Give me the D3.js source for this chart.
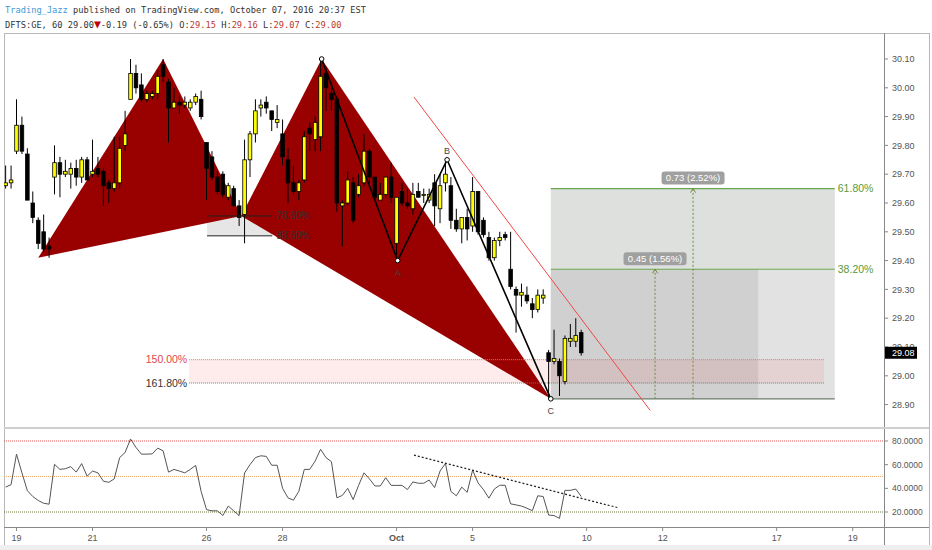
<!DOCTYPE html>
<html><head><meta charset="utf-8">
<script src="https://cdn.jsdelivr.net/npm/d3@7"></script>
<style>body{margin:0;background:#fff}svg{display:block}</style>
</head><body>
<svg id="c" width="932" height="550"></svg>
<script>
// ---------- DATA ----------
const startIndex = -2; // bar index of first candle (0 = Sep 19, 9:30)
const opens  = [29.66,29.67,29.78,29.87,29.77,29.60,29.54,29.50,29.45,29.69,29.74,29.70,29.70,29.72,29.69,29.75,29.70,29.72,29.71,29.67,29.65,29.67,29.80,29.96,30.05,30.01,29.96,29.97,29.98,30.08,30.02,29.93,29.95,29.94,29.93,29.95,29.96,29.81,29.76,29.69,29.70,29.62,29.65,29.59,29.56,29.75,29.84,29.93,29.95,29.92,29.88,29.84,29.75,29.67,29.64,29.68,29.86,29.82,29.83,30.05,29.98,29.96,29.59,29.60,29.67,29.63,29.67,29.78,29.69,29.61,29.63,29.69,29.46,29.64,29.60,29.58,29.64,29.63,29.61,29.67,29.58,29.67,29.66,29.54,29.51,29.55,29.52,29.64,29.54,29.48,29.41,29.47,29.49,29.37,29.30,29.28,29.28,29.25,29.23,29.27,29.08,29.05,29.05,28.98,29.12,29.12,29.15];
const highs  = [29.73,29.73,29.96,29.90,29.79,29.64,29.55,29.56,29.48,29.80,29.76,29.75,29.74,29.75,29.76,29.76,29.82,29.76,29.72,29.68,29.83,29.83,29.92,30.10,30.08,30.05,29.99,29.99,30.06,30.10,30.03,30.00,29.97,29.97,29.96,29.98,29.99,29.81,29.78,29.71,29.71,29.67,29.66,29.61,29.82,29.85,29.96,29.96,29.97,29.92,29.94,29.89,29.79,29.73,29.68,29.85,29.88,29.90,30.10,30.07,30.02,29.97,29.61,29.71,29.69,29.70,29.84,29.79,29.69,29.67,29.69,29.74,29.62,29.67,29.65,29.67,29.67,29.65,29.65,29.70,29.70,29.75,29.69,29.58,29.55,29.58,29.69,29.64,29.55,29.50,29.48,29.50,29.50,29.50,29.31,29.32,29.31,29.27,29.30,29.30,29.09,29.16,29.06,29.14,29.18,29.20,29.16];
const lows   = [29.65,29.65,29.77,29.77,29.61,29.53,29.44,29.43,29.41,29.63,29.62,29.69,29.65,29.66,29.67,29.68,29.69,29.69,29.59,29.60,29.64,29.65,29.78,29.96,29.98,29.95,29.95,29.96,29.96,30.02,29.81,29.93,29.91,29.93,29.92,29.94,29.89,29.61,29.68,29.63,29.62,29.61,29.59,29.52,29.46,29.69,29.81,29.90,29.91,29.85,29.86,29.73,29.60,29.63,29.61,29.67,29.78,29.78,29.78,29.92,29.92,29.57,29.45,29.59,29.53,29.62,29.66,29.67,29.61,29.61,29.62,29.60,29.41,29.59,29.58,29.56,29.62,29.60,29.60,29.52,29.53,29.64,29.51,29.50,29.46,29.47,29.50,29.49,29.48,29.40,29.40,29.45,29.47,29.30,29.15,29.24,29.25,29.20,29.22,29.25,28.92,29.04,28.93,28.97,29.10,29.10,29.07];
const closes = [29.67,29.68,29.87,29.78,29.61,29.55,29.46,29.44,29.44,29.74,29.70,29.71,29.72,29.69,29.75,29.68,29.71,29.70,29.66,29.65,29.67,29.79,29.84,30.05,30.00,29.96,29.98,29.98,30.04,30.04,29.93,29.95,29.94,29.95,29.95,29.97,29.90,29.72,29.69,29.64,29.63,29.66,29.59,29.55,29.75,29.84,29.92,29.94,29.93,29.89,29.89,29.76,29.67,29.64,29.67,29.83,29.84,29.88,30.04,30.00,29.96,29.60,29.60,29.68,29.54,29.66,29.78,29.69,29.62,29.63,29.69,29.62,29.62,29.60,29.59,29.63,29.62,29.63,29.63,29.59,29.66,29.70,29.54,29.51,29.55,29.51,29.64,29.50,29.49,29.41,29.47,29.48,29.48,29.31,29.28,29.29,29.26,29.23,29.28,29.28,29.05,29.06,29.00,29.13,29.13,29.14,29.08];
const rsi    = [41.1,43.1,68.9,53.1,38.0,33.1,29.7,27.4,26.6,60.3,56.0,56.6,58.3,53.7,60.9,50.3,54.6,53.1,46.0,45.1,48.0,66.0,70.3,81.7,74.6,68.9,68.9,69.1,74.0,71.7,53.7,56.0,54.6,53.1,56.0,59.4,37.4,22.0,21.0,21.0,17.0,25.0,21.0,17.0,53.0,60.0,66.0,67.5,67.0,59.5,59.5,40.0,32.0,30.0,37.5,56.0,56.0,63.0,73.0,66.0,62.5,32.0,34.0,40.0,30.5,42.5,53.1,48.0,42.0,42.0,49.0,42.5,42.5,42.5,39.0,45.4,44.3,44.3,47.0,40.6,54.6,61.0,37.4,33.7,41.0,36.6,55.4,44.6,38.9,31.7,39.4,42.6,42.6,26.9,26.0,25.0,23.2,21.1,33.7,33.1,17.4,17.0,14.6,38.3,38.3,39.4,33.1];

const tickIndex  = [0,14,35,49,70,84,105,119,140,154];
const tickLabels = ["19","21","26","28","Oct","5","10","12","17","19"];
const priceTicks = [28.9,29.0,29.1,29.2,29.3,29.4,29.5,29.6,29.7,29.8,29.9,30.0,30.1];
const rsiTicks   = [20,40,60,80];
const rsiLevels  = [80,50,20];
const rsiLevelColors = ["#d9534f","#f0a868","#6b7a3c"];

const harmonicIdx   = [4,27,41.4,56.2,98.4];        // X A B C D
const harmonicPrice = [29.41,30.10,29.555,30.10,28.92];
const abcdIdx    = [56.2,70.2,79.3,98.4];
const abcdPrice  = [30.10,29.40,29.75,28.92];
const abcdLabels = ["","A","B","C"];

const retraceLabels = ["78.60%","88.60%"];
const retracePrices = [29.555,29.486];
const retraceSpan   = [35.1,47.1];

const extLabels = ["150.00%","161.80%"];
const extPrices = [29.056,28.975];
const extSpan   = [31.8,148.7];

const projBase   = 28.92;
const projLabels = ["38.20%","61.80%"];
const projPrices = [29.37,29.65];
const projSpan   = [98.4,150.7];
const projInnerEnd = 136.6;

const measureIdx    = [117.6,124.6];
const measureTo     = [29.37,29.65];
const measureLabels = ["0.45 (1.56%)","0.73 (2.52%)"];

const trendIdx   = [73.2,116.7];
const trendPrice = [29.968,28.88];
const rsiTrendIdx = [73.2,110.8];
const rsiTrendVal = [68,23.6];
const lastPrice = 29.08;

// ---------- LAYOUT ----------
const svg = d3.select("#c");
const plotL = 4, plotR = 884, outerR = 929, mainT = 33, mainB = 427, rsiT = 429, rsiB = 527;
const x  = d3.scaleLinear().domain([0,154]).range([16.5,852.7]);
const y  = d3.scaleLinear().domain([28.9,30.1]).range([404.6,59]);
const ry = d3.scaleLinear().domain([20,80]).range([512,441]);
const sans = "'Liberation Sans', Arial, sans-serif";
const mono = "'DejaVu Sans Mono', monospace";

const defs = svg.append("defs");
defs.append("clipPath").attr("id","mc").append("rect")
  .attr("x",plotL).attr("y",mainT).attr("width",plotR-plotL).attr("height",mainB-mainT);
defs.append("clipPath").attr("id","rc").append("rect")
  .attr("x",plotL).attr("y",rsiT).attr("width",plotR-plotL).attr("height",rsiB-rsiT);

// header
const h1 = svg.append("text").attr("x",5).attr("y",13).attr("font-family",mono).attr("font-size",8.7).attr("fill","#333");
h1.append("tspan").attr("fill","#3d9ad6").text("Trading_Jazz");
h1.append("tspan").text(" published on TradingView.com, October 07, 2016 20:37 EST");
const h2 = svg.append("text").attr("x",5).attr("y",28).attr("font-family",mono).attr("font-size",8.7).attr("fill","#333");
[["DFTS:GE, 60 29.00","#333",8.7],["▼","#c00000",11.5],["-0.19 (-0.65%) O:","#333",8.7],["29.15","#c0392b",8.7],[" H:","#333",8.7],["29.16","#c0392b",8.7],[" L:","#333",8.7],["29.07","#c0392b",8.7],[" C:","#333",8.7],["29.00","#c0392b",8.7]]
  .forEach(([t,c,fs])=>h2.append("tspan").attr("fill",c).attr("font-size",fs).text(t));

// frame
const frame = svg.append("g").attr("stroke","#b8b8b8").attr("fill","none");
frame.append("line").attr("x1",plotL).attr("x2",outerR).attr("y1",mainT+0.5).attr("y2",mainT+0.5);
frame.append("line").attr("x1",plotL+0.5).attr("x2",plotL+0.5).attr("y1",mainT).attr("y2",545);
frame.append("line").attr("x1",plotR+0.5).attr("x2",plotR+0.5).attr("y1",mainT).attr("y2",545).attr("stroke","#888");
frame.append("line").attr("x1",outerR+0.5).attr("x2",outerR+0.5).attr("y1",mainT).attr("y2",545);
frame.append("rect").attr("x",plotL).attr("y",mainB).attr("width",outerR-plotL).attr("height",2).attr("fill","#cfcfcf").attr("stroke","none");
frame.append("line").attr("x1",plotL).attr("x2",outerR).attr("y1",rsiB+0.5).attr("y2",rsiB+0.5).attr("stroke","#888");
svg.append("rect").attr("x",0).attr("y",545).attr("width",932).attr("height",5).attr("fill","#efefef");

// ---------- MAIN PANE ----------
const m = svg.append("g").attr("clip-path","url(#mc)");

// projection zone
m.append("rect").attr("x",x(projSpan[0])).attr("width",x(projSpan[1])-x(projSpan[0]))
  .attr("y",y(projPrices[1])).attr("height",y(projPrices[0])-y(projPrices[1])).attr("fill","#dde0dc");
m.append("rect").attr("x",x(projSpan[0])).attr("width",x(projSpan[1])-x(projSpan[0]))
  .attr("y",y(projPrices[0])).attr("height",y(projBase)-y(projPrices[0])).attr("fill","#e2e2e2");
m.append("rect").attr("x",x(projSpan[0])).attr("width",x(projInnerEnd)-x(projSpan[0]))
  .attr("y",y(projPrices[0])).attr("height",y(projBase)-y(projPrices[0])).attr("fill","#d0d0d0");

// extension band
m.append("rect").attr("x",x(extSpan[0])).attr("width",x(extSpan[1])-x(extSpan[0]))
  .attr("y",y(extPrices[0])).attr("height",y(extPrices[1])-y(extPrices[0])).attr("fill","rgba(245,70,70,0.10)");

// retracement fill
m.append("rect").attr("x",x(retraceSpan[0])).attr("width",x(retraceSpan[1])-x(retraceSpan[0]))
  .attr("y",y(retracePrices[0])).attr("height",y(retracePrices[1])-y(retracePrices[0])).attr("fill","#e6e6e6");

// harmonic triangles XAB, BCD
const pt = k => [x(harmonicIdx[k]), y(harmonicPrice[k])];
[[0,1,2],[2,3,4]].forEach(tri=>{
  m.append("path").attr("d","M"+tri.map(pt).map(p=>p.join(",")).join("L")+"Z").attr("fill","#990000");
});

// extension lines
extPrices.forEach((p,k)=>{
  m.append("line").attr("x1",x(extSpan[0])).attr("x2",x(extSpan[1])).attr("y1",y(p)).attr("y2",y(p))
   .attr("stroke",k===0?"#e57373":"#777").attr("stroke-width",1).attr("stroke-dasharray","1,1");
});

// candles
const bars = opens.map((o,k)=>({i:startIndex+k,o,h:highs[k],l:lows[k],c:closes[k]}));
const cg = m.append("g");
const bw = 3.6;
bars.forEach(b=>{
  const cx = x(b.i);
  cg.append("line").attr("x1",cx).attr("x2",cx).attr("y1",y(b.h)).attr("y2",y(b.l)).attr("stroke","#000").attr("stroke-width",1);
  const up = b.c >= b.o;
  const top = y(Math.max(b.o,b.c)), bot = y(Math.min(b.o,b.c));
  cg.append("rect").attr("x",cx-bw/2).attr("width",bw).attr("y",top).attr("height",Math.max(1.2,bot-top))
    .attr("fill",up?"#ffff00":"#000").attr("stroke","#000").attr("stroke-width",0.8);
});

// retracement lines + labels
retracePrices.forEach((p,k)=>{
  m.append("line").attr("x1",x(retraceSpan[0])).attr("x2",x(retraceSpan[1])).attr("y1",y(p)).attr("y2",y(p))
    .attr("stroke","#222").attr("stroke-width",1);
  m.append("text").attr("x",x(retraceSpan[1])+4).attr("y",y(p)).attr("dy","0.35em")
    .attr("font-family",sans).attr("font-size",10).attr("fill","#333").text(retraceLabels[k]);
});

// projection lines
projPrices.forEach(p=>{
  m.append("line").attr("x1",x(projSpan[0])).attr("x2",x(projSpan[1])).attr("y1",y(p)).attr("y2",y(p))
    .attr("stroke","#6aa84f").attr("stroke-width",1.2);
});
m.append("line").attr("x1",x(projSpan[0])).attr("x2",x(projSpan[1])).attr("y1",y(projBase)).attr("y2",y(projBase))
  .attr("stroke","#6d7d6a").attr("stroke-width",1.2);
projPrices.forEach((p,k)=>{
  m.append("text").attr("x",x(projSpan[1])+3).attr("y",y(p)).attr("dy","0.35em")
    .attr("font-family",sans).attr("font-size",10.5).attr("fill","#5b9a3a").text(projLabels[k]);
});

// extension labels
extPrices.forEach((p,k)=>{
  m.append("text").attr("x",x(extSpan[0])-2).attr("y",y(p)).attr("dy","0.35em").attr("text-anchor","end")
    .attr("font-family",sans).attr("font-size",10.5).attr("fill",k===0?"#e0474c":"#333").text(extLabels[k]);
});

// measure arrows
measureIdx.forEach((mi,k)=>{
  const cx = x(mi), yt = y(measureTo[k]);
  m.append("line").attr("x1",cx).attr("x2",cx).attr("y1",y(projBase)).attr("y2",yt)
    .attr("stroke","#6b8e3a").attr("stroke-width",1).attr("stroke-dasharray","2,2");
  m.append("path").attr("d",`M${cx-2.5},${yt+4}L${cx},${yt}L${cx+2.5},${yt+4}`).attr("fill","none").attr("stroke","#6b8e3a");
  const w = 63, hgt = 13, by = yt - 10.5;
  m.append("rect").attr("x",cx-w/2).attr("y",by-hgt/2).attr("width",w).attr("height",hgt).attr("rx",3)
    .attr("fill","#a0a0a0");
  m.append("text").attr("x",cx).attr("y",by).attr("dy","0.35em").attr("text-anchor","middle")
    .attr("font-family",sans).attr("font-size",9.5).attr("fill","#fff").text(measureLabels[k]);
});

// red trend line
m.append("line").attr("x1",x(trendIdx[0])).attr("y1",y(trendPrice[0])).attr("x2",x(trendIdx[1])).attr("y2",y(trendPrice[1]))
  .attr("stroke","#f04848").attr("stroke-width",1);

// ABCD
const abcdPts = abcdIdx.map((v,k)=>[x(v),y(abcdPrice[k])]);
m.append("path").attr("d",d3.line()(abcdPts)).attr("fill","none").attr("stroke","#000").attr("stroke-width",1.6);
abcdPts.forEach((p,k)=>{
  m.append("circle").attr("cx",p[0]).attr("cy",p[1]).attr("r",2.3).attr("fill","#fff").attr("stroke","#000").attr("stroke-width",1);
  if(abcdLabels[k]){
    const above = k===2;
    m.append("text").attr("x",p[0]).attr("y",p[1]+(above?-9:12)).attr("dy","0.35em").attr("text-anchor","middle")
      .attr("font-family",sans).attr("font-size",9).attr("fill","#444").text(abcdLabels[k]);
  }
});

// price axis
const pa = svg.append("g");
priceTicks.forEach(p=>{
  pa.append("line").attr("x1",plotR).attr("x2",plotR+4).attr("y1",y(p)).attr("y2",y(p)).attr("stroke","#888");
  pa.append("text").attr("x",plotR+8).attr("y",y(p)).attr("dy","0.35em").attr("font-family",sans).attr("font-size",9)
    .attr("fill","#555").text(p.toFixed(2));
});
pa.append("rect").attr("x",plotR+1).attr("y",y(lastPrice)-6).attr("width",32).attr("height",12).attr("fill","#000");
pa.append("text").attr("x",plotR+8).attr("y",y(lastPrice)).attr("dy","0.35em").attr("font-family",sans).attr("font-size",9)
  .attr("fill","#fff").text(lastPrice.toFixed(2));

// ---------- RSI PANE ----------
const r = svg.append("g").attr("clip-path","url(#rc)");
rsiLevels.forEach((v,k)=>{
  r.append("line").attr("x1",plotL).attr("x2",plotR).attr("y1",ry(v)).attr("y2",ry(v))
    .attr("stroke",rsiLevelColors[k]).attr("stroke-width",1).attr("stroke-dasharray","1,1");
});
r.append("path").attr("d",d3.line().x((v,k)=>x(startIndex+k)).y(v=>ry(v))(rsi))
  .attr("fill","none").attr("stroke","#555").attr("stroke-width",1);
r.append("line").attr("x1",x(rsiTrendIdx[0])).attr("y1",ry(rsiTrendVal[0])).attr("x2",x(rsiTrendIdx[1])).attr("y2",ry(rsiTrendVal[1]))
  .attr("stroke","#222").attr("stroke-width",1.2).attr("stroke-dasharray","2,2");
rsiTicks.forEach(v=>{
  svg.append("line").attr("x1",plotR).attr("x2",plotR+4).attr("y1",ry(v)).attr("y2",ry(v)).attr("stroke","#888");
  svg.append("text").attr("x",plotR+8).attr("y",ry(v)).attr("dy","0.35em").attr("font-family",sans).attr("font-size",8.5)
    .attr("fill","#555").text(v.toFixed(4));
});

// x axis
tickIndex.forEach((ti,k)=>{
  svg.append("line").attr("x1",x(ti)).attr("x2",x(ti)).attr("y1",rsiB).attr("y2",rsiB+4).attr("stroke","#888");
  svg.append("text").attr("x",x(ti)).attr("y",538).attr("dy","0.35em").attr("text-anchor","middle")
    .attr("font-family",sans).attr("font-size",9).attr("font-weight",tickLabels[k]==="Oct"?"bold":"normal")
    .attr("fill","#555").text(tickLabels[k]);
});
</script>
</body></html>
